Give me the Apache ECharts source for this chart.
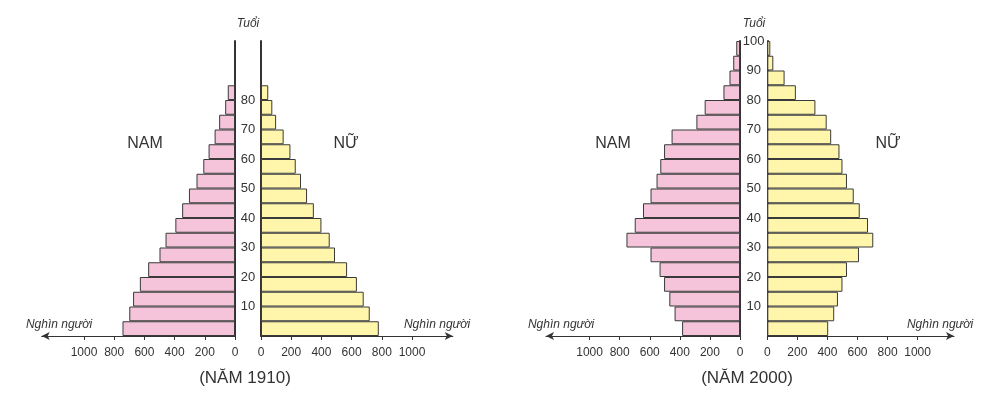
<!DOCTYPE html>
<html>
<head>
<meta charset="utf-8">
<title>Tháp dân số 1910 và 2000</title>
<script src="https://cdn.jsdelivr.net/npm/echarts@6/dist/echarts.min.js"></script>
<style>
  html, body { margin: 0; padding: 0; background: #fff; }
  #chart { width: 988px; height: 399px; }
</style>
</head>
<body>
<div id="chart"></div>
<script>
// nhóm tuổi, từ dưới lên
const ageGroups = ['0-4', '5-9', '10-14', '15-19', '20-24', '25-29', '30-34', '35-39', '40-44', '45-49',
  '50-54', '55-59', '60-64', '65-69', '70-74', '75-79', '80-84', '85-89', '90-94', '95-99']

// nghìn người
const male1910 = [745, 700, 675, 630, 575, 500, 460, 395, 350, 305, 255, 210, 175, 135, 105, 65, 48, null, null, null]
const female1910 = [780, 720, 680, 635, 570, 490, 455, 400, 350, 305, 265, 230, 195, 150, 100, 75, 48, null, null, null]
const male2000 = [385, 435, 470, 505, 535, 595, 755, 700, 645, 595, 555, 530, 505, 455, 290, 235, 110, 70, 45, 25]
const female2000 = [405, 445, 470, 500, 530, 610, 705, 670, 615, 575, 530, 500, 480, 425, 395, 320, 190, 115, 40, 20]

const xTicks = [0, 200, 400, 600, 800, 1000]
const ageTicks1910 = [10, 20, 30, 40, 50, 60, 70, 80]
const ageTicks2000 = [10, 20, 30, 40, 50, 60, 70, 80, 90, 100]

const FONT = '"Liberation Sans", Arial, sans-serif'
const INK = '#333'

const chart = echarts.init(document.getElementById('chart'))

// mỗi tháp: 2 lưới (nam bên trái, nữ bên phải)
const pyramids = [
  { male: male1910, female: female1910, ages: ageTicks1910,
    mLeft: 41.7, mWidth: 193.3, mMax: 1280, fLeft: 261, fWidth: 191.8, fMax: 1270, mid: 13 },
  { male: male2000, female: female2000, ages: ageTicks2000,
    mLeft: 546, mWidth: 194, mMax: 1290, fLeft: 767.3, fWidth: 186.7, fMax: 1242, mid: 13.6 }
]

const grids = []
const xAxes = []
const yAxes = []
const series = []

pyramids.forEach((p, i) => {
  const gm = grids.length
  grids.push({ left: p.mLeft, width: p.mWidth, top: 41, height: 295 })
  grids.push({ left: p.fLeft, width: p.fWidth, top: 41, height: 295 })

  const xBase = {
    type: 'value', min: 0,
    splitLine: { show: false },
    axisTick: { show: true, length: 4, lineStyle: { color: INK }, customValues: xTicks },
    axisLabel: { color: INK, fontSize: 12, fontFamily: FONT, margin: 11, customValues: xTicks,
      formatter: v => String(v) }
  }
  const lineStyle = { color: INK, width: 1 }
  // trục đảo chiều: mũi tên nằm ở đầu bên trái
  xAxes.push(Object.assign({}, xBase, { gridIndex: gm, max: p.mMax, inverse: true,
    axisLine: { show: true, lineStyle: lineStyle, symbol: ['arrow', 'none'], symbolSize: [6, 8] } }))
  xAxes.push(Object.assign({}, xBase, { gridIndex: gm + 1, max: p.fMax,
    axisLine: { show: true, lineStyle: lineStyle, symbol: ['none', 'arrow'], symbolSize: [6, 8] } }))

  const yBase = {
    type: 'category', data: ageGroups,
    axisLine: { show: true, onZero: false, lineStyle: { color: INK, width: 2 } },
    axisTick: { show: false },
    axisLabel: { show: false }
  }
  const ym = yAxes.length
  yAxes.push(Object.assign({}, yBase, { gridIndex: gm, position: 'right' }))
  yAxes.push(Object.assign({}, yBase, { gridIndex: gm + 1, position: 'left' }))
  // nhãn tuổi ở giữa hai trục
  yAxes.push({
    type: 'value', gridIndex: gm + 1, position: 'left', min: 0, max: 100,
    axisLine: { show: false }, axisTick: { show: false }, splitLine: { show: false },
    axisLabel: { color: INK, fontSize: 13, fontFamily: FONT, align: 'center', margin: p.mid, customValues: p.ages }
  })

  const barBase = {
    type: 'bar', barCategoryGap: '0%',
    itemStyle: { borderColor: '#3a3a3a', borderWidth: 1 },
    silent: true
  }
  series.push(Object.assign({}, barBase, {
    name: 'Nam ' + i, xAxisIndex: gm, yAxisIndex: ym, data: p.male,
    itemStyle: Object.assign({}, barBase.itemStyle, { color: '#f5c3da' })
  }))
  series.push(Object.assign({}, barBase, {
    name: 'Nữ ' + i, xAxisIndex: gm + 1, yAxisIndex: ym + 1, data: p.female,
    itemStyle: Object.assign({}, barBase.itemStyle, { color: '#fff6ac' })
  }))
})

const txt = (x, y, text, size, italic) => ({
  type: 'text', x: x, y: y,
  style: {
    text: text, fill: INK, font: (italic ? 'italic ' : '') + size + 'px ' + FONT,
    textAlign: 'center', textVerticalAlign: 'middle'
  }
})

const option = {
  animation: false,
  grid: grids,
  xAxis: xAxes,
  yAxis: yAxes,
  series: series,
  graphic: [
    txt(248, 24, 'Tuổi', 12, true),
    txt(754, 24, 'Tuổi', 12, true),
    txt(145, 144, 'NAM', 16),
    txt(346, 144, 'NỮ', 16),
    txt(613, 144, 'NAM', 16),
    txt(888, 144, 'NỮ', 16),
    txt(59, 325, 'Nghìn người', 12, true),
    txt(437, 325, 'Nghìn người', 12, true),
    txt(561, 325, 'Nghìn người', 12, true),
    txt(940, 325, 'Nghìn người', 12, true),
    txt(245, 378, '(NĂM 1910)', 17),
    txt(747, 378, '(NĂM 2000)', 17)
  ]
}

chart.setOption(option)
</script>
</body>
</html>
